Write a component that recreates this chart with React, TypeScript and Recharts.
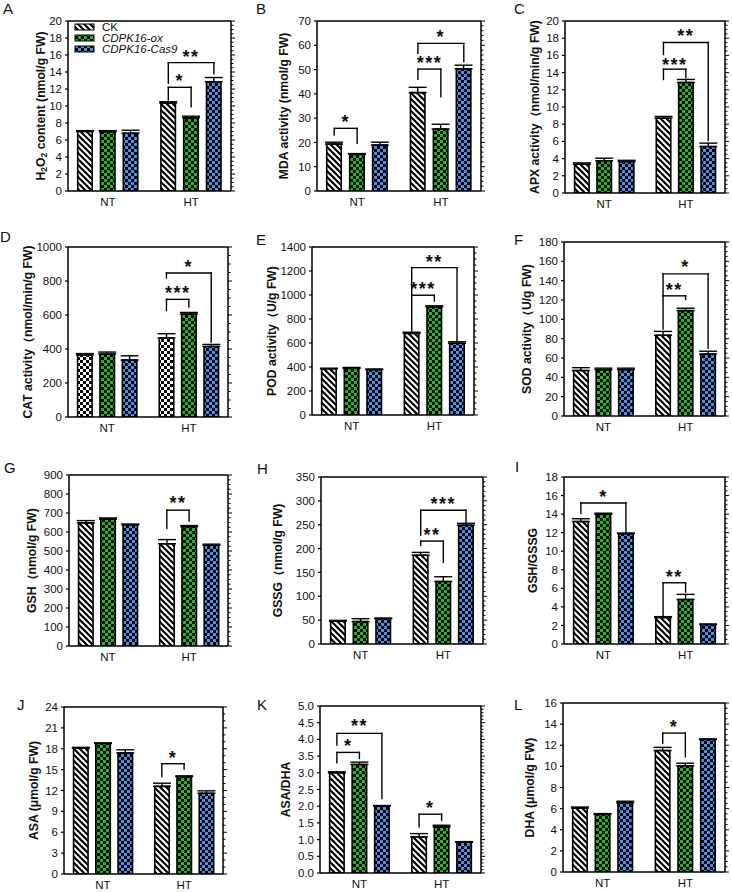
import React from "react";
import { BarChart, Bar, XAxis, YAxis, ErrorBar, Cell, ReferenceLine, ReferenceDot } from "recharts";

const FONT = "'Liberation Sans', Arial, Helvetica, sans-serif";

const groups = ["NT", "HT"];
const genotypes = ["CK", "CDPK16-ox", "CDPK16-Cas9"];

// 값 순서: NT(CK, ox, Cas9) → HT(CK, ox, Cas9)
const h2o2Mean = [7.0, 6.95, 6.8, 10.35, 8.6, 12.85];
const h2o2Err = [0.1, 0.15, 0.35, 0.15, 0.2, 0.5];
const mdaMean = [19.3, 15.1, 18.9, 40.5, 25.5, 50.3];
const mdaErr = [0.8, 0.3, 1.2, 2.2, 2.0, 1.5];
const apxMean = [3.35, 3.75, 3.65, 8.7, 12.85, 5.4];
const apxErr = [0.15, 0.3, 0.15, 0.2, 0.35, 0.4];
const catMean = [365, 370, 335, 465, 605, 415];
const catErr = [8, 12, 25, 25, 10, 12];
const podMean = [385, 388, 378, 680, 900, 598];
const podErr = [5, 8, 5, 10, 10, 12];
const sodMean = [47, 48, 48, 83.5, 109, 64];
const sodErr = [3, 1.5, 1.5, 4, 2.5, 3];
const gshMean = [648, 668, 638, 538, 628, 530];
const gshErr = [12, 6, 4, 22, 6, 6];
const gssgMean = [48, 47, 53, 186, 131, 249];
const gssgErr = [1.5, 6, 1.5, 6, 10, 4];
const gshRatioMean = [13.2, 14.0, 11.9, 2.85, 4.8, 2.1];
const gshRatioErr = [0.3, 0.1, 0.05, 0.1, 0.55, 0.05];
const asaMean = [18.1, 18.75, 17.4, 12.6, 14.0, 11.6];
const asaErr = [0.1, 0.1, 0.45, 0.45, 0.1, 0.35];
const asaRatioMean = [3.0, 3.25, 2.0, 1.08, 1.38, 0.92];
const asaRatioErr = [0.03, 0.07, 0.02, 0.1, 0.05, 0.02];
const dhaMean = [6.05, 5.45, 6.55, 11.5, 10.05, 12.55];
const dhaErr = [0.1, 0.08, 0.15, 0.3, 0.25, 0.05];

// y축 눈금
const h2o2Ticks = [0, 2, 4, 6, 8, 10, 12, 14, 16, 18, 20];
const mdaTicks = [0, 10, 20, 30, 40, 50, 60, 70];
const apxTicks = [0, 2, 4, 6, 8, 10, 12, 14, 16, 18, 20];
const catTicks = [0, 200, 400, 600, 800, 1000];
const podTicks = [0, 200, 400, 600, 800, 1000, 1200, 1400];
const sodTicks = [0, 20, 40, 60, 80, 100, 120, 140, 160, 180];
const gshTicks = [0, 100, 200, 300, 400, 500, 600, 700, 800, 900];
const gssgTicks = [0, 50, 100, 150, 200, 250, 300, 350];
const gshRatioTicks = [0, 2, 4, 6, 8, 10, 12, 14, 16, 18];
const asaTicks = [0, 3, 6, 9, 12, 15, 18, 21, 24];
const asaRatioTicks = [0, 0.5, 1, 1.5, 2, 2.5, 3, 3.5, 4, 4.5, 5];
const dhaTicks = [0, 2, 4, 6, 8, 10, 12, 14, 16];

// 유의성 브래킷: [왼쪽 막대, 오른쪽 막대, 가로선 y, 왼쪽 다리 끝, 오른쪽 다리 끝, 별표 y, 별표]
type Bracket = [number, number, number, number, number, number, string];
const h2o2Brackets: Bracket[] = [
  [3, 4, 12.2, 10.7, 9.9, 13.4, "*"],
  [3, 5, 15.1, 12.7, 13.8, 16.2, "**"],
];
const mdaBrackets: Bracket[] = [
  [0, 1, 25.8, 23, 19.6, 29.9, "*"],
  [3, 4, 50.2, 46, 38.8, 54.2, "***"],
  [3, 5, 60.8, 56.7, 53.2, 64.9, "*"],
];
const apxBrackets: Bracket[] = [
  [3, 4, 14.4, 13.2, 13.4, 15.4, "***"],
  [3, 5, 17.5, 16.1, 6.1, 18.7, "**"],
];
const catBrackets: Bracket[] = [
  [3, 4, 692, 627, 647, 755, "***"],
  [3, 5, 847, 818, 441, 908, "*"],
];
const podBrackets: Bracket[] = [
  [3, 4, 998, 700, 950, 1080, "***"],
  [3, 5, 1228, 1000, 620, 1311, "**"],
];
const sodBrackets: Bracket[] = [
  [3, 4, 124.3, 90, 120.5, 134, "**"],
  [3, 5, 147, 124.3, 70, 158, "*"],
];
const gshBrackets: Bracket[] = [[3, 4, 715, 620, 657, 772, "**"]];
const gssgBrackets: Bracket[] = [
  [3, 4, 215.7, 207, 171, 236.6, "**"],
  [3, 5, 280.4, 228, 254.7, 301, "***"],
];
const gshRatioBrackets: Bracket[] = [
  [0, 2, 15.2, 14.1, 12.0, 16.3, "*"],
  [3, 4, 6.6, 3.1, 5.6, 7.7, "**"],
];
const asaBrackets: Bracket[] = [[3, 4, 15.85, 14.0, 15.1, 17.3, "*"]];
const asaRatioBrackets: Bracket[] = [
  [0, 1, 3.61, 3.3, 3.43, 3.91, "*"],
  [0, 2, 4.18, 3.83, 2.23, 4.51, "**"],
  [3, 4, 1.76, 1.38, 1.58, 2.08, "*"],
];
const dhaBrackets: Bracket[] = [[3, 4, 13.15, 12.2, 10.9, 14.1, "*"]];

// 숫자 x축 위의 막대 자리 (NT 3개, HT 3개)
const SLOT_X = [1, 2, 3, 4.65, 5.65, 6.65];
const GROUP_X = [2, 5.65];
const X_DOMAIN: [number, number] = [0.25, 7.4];

const sub = (t: string) => (
  <tspan dy={3} fontSize={8.5}>
    {t}
  </tspan>
);

type PanelDef = {
  key: string;
  title: React.ReactNode;
  mean: number[];
  err: number[];
  ticks: number[];
  minor: number;
  brackets: Bracket[];
  box: [number, number, number, number]; // 플롯 영역 x, y, w, h
  titleDx: number;
  letter: [number, number];
  digits?: number;
  ckChecker?: boolean;
  topTicks?: boolean;
};

const panels: PanelDef[] = [
  {
    key: "A",
    title: (
      <>
        H{sub("2")}
        <tspan dy={-3}>O</tspan>
        {sub("2")}
        <tspan dy={-3}> content (nmol/g FW)</tspan>
      </>
    ),
    mean: h2o2Mean, err: h2o2Err, ticks: h2o2Ticks, minor: 0.5, brackets: h2o2Brackets,
    box: [68, 21, 163, 170], titleDx: -27, letter: [3, 14], topTicks: false,
  },
  {
    key: "B", title: "MDA activity (nmol/g FW)",
    mean: mdaMean, err: mdaErr, ticks: mdaTicks, minor: 2, brackets: mdaBrackets,
    box: [317, 21, 164, 170], titleDx: -33, letter: [256, 14],
  },
  {
    key: "C", title: "APX activity（nmol/min/g FW)",
    mean: apxMean, err: apxErr, ticks: apxTicks, minor: 0.5, brackets: apxBrackets,
    box: [565, 21, 160, 172], titleDx: -30, letter: [514, 14],
  },
  {
    key: "D", title: "CAT activity（nmol/min/g FW)",
    mean: catMean, err: catErr, ticks: catTicks, minor: 50, brackets: catBrackets,
    box: [68, 247, 160, 170], titleDx: -40, letter: [0, 242], ckChecker: true,
  },
  {
    key: "E", title: "POD activity（U/g FW)",
    mean: podMean, err: podErr, ticks: podTicks, minor: 50, brackets: podBrackets,
    box: [312, 247, 162, 168], titleDx: -40, letter: [256, 245],
  },
  {
    key: "F", title: "SOD activity（U/g FW)",
    mean: sodMean, err: sodErr, ticks: sodTicks, minor: 5, brackets: sodBrackets,
    box: [564, 242, 161, 174], titleDx: -37, letter: [514, 245],
  },
  {
    key: "G", title: "GSH（nmol/g FW)",
    mean: gshMean, err: gshErr, ticks: gshTicks, minor: 25, brackets: gshBrackets,
    box: [69, 475, 159, 171], titleDx: -37, letter: [4, 473],
  },
  {
    key: "H", title: "GSSG（nmol/g FW)",
    mean: gssgMean, err: gssgErr, ticks: gssgTicks, minor: 10, brackets: gssgBrackets,
    box: [321, 477, 162, 167], titleDx: -43, letter: [257, 474],
  },
  {
    key: "I", title: "GSH/GSSG",
    mean: gshRatioMean, err: gshRatioErr, ticks: gshRatioTicks, minor: 0.5, brackets: gshRatioBrackets,
    box: [564, 477, 161, 167], titleDx: -31, letter: [515, 472],
  },
  {
    key: "J", title: "ASA (μmol/g FW)",
    mean: asaMean, err: asaErr, ticks: asaTicks, minor: 1, brackets: asaBrackets,
    box: [64, 707, 159, 167], titleDx: -30, letter: [17, 710],
  },
  {
    key: "K", title: "ASA/DHA",
    mean: asaRatioMean, err: asaRatioErr, ticks: asaRatioTicks, minor: 0.1, brackets: asaRatioBrackets,
    box: [320, 706, 161, 167], titleDx: -34, letter: [257, 710], digits: 1,
  },
  {
    key: "L", title: "DHA (μmol/g FW)",
    mean: dhaMean, err: dhaErr, ticks: dhaTicks, minor: 0.5, brackets: dhaBrackets,
    box: [563, 703, 162, 169], titleDx: -33, letter: [514, 710],
  },
];

const GREEN = "#1fb81f";
const BLUE = "#4a8fe6";

function patternDefs(id: string) {
  return (
    <defs>
      <pattern id={`${id}-st`} width={6} height={6} patternUnits="userSpaceOnUse">
        <rect width={6} height={6} fill="#fff" />
        <path d="M-1,-1 L7,7 M-1,5 L1,7 M5,-1 L7,1" stroke="#000" strokeWidth={2.2} />
      </pattern>
      <pattern id={`${id}-ckc`} width={6} height={6} patternUnits="userSpaceOnUse">
        <rect width={6} height={6} fill="#000" />
        <rect width={3} height={3} fill="#fff" />
        <rect x={3} y={3} width={3} height={3} fill="#fff" />
      </pattern>
      <pattern id={`${id}-gr`} width={6} height={6} patternUnits="userSpaceOnUse">
        <rect width={6} height={6} fill="#000" />
        <rect width={3} height={3} fill={GREEN} />
        <rect x={3} y={3} width={3} height={3} fill={GREEN} />
      </pattern>
      <pattern id={`${id}-bl`} width={6} height={6} patternUnits="userSpaceOnUse">
        <rect width={6} height={6} fill="#000" />
        <rect width={3} height={3} fill={BLUE} />
        <rect x={3} y={3} width={3} height={3} fill={BLUE} />
      </pattern>
    </defs>
  );
}

function YTitle({ viewBox, dx, title }: { viewBox?: any; dx: number; title: React.ReactNode }) {
  const vb = viewBox || {};
  const cx = (vb.x ?? 0) + (vb.width ?? 60) + dx;
  const cy = (vb.y ?? 22) + (vb.height ?? 170) / 2;
  return (
    <text
      transform={`translate(${cx},${cy}) rotate(-90)`}
      textAnchor="middle"
      dominantBaseline="central"
      fontSize={12.2}
      fontWeight="bold"
      fontFamily={FONT}
      fill="#111"
    >
      {title}
    </text>
  );
}

function Panel({ p }: { p: PanelDef }) {
  const [x, y, w, h] = p.box;
  const id = p.key;
  const yMax = p.ticks[p.ticks.length - 1];
  const rows = p.mean.map((v, i) => ({
    pos: SLOT_X[i],
    value: v,
    err: [0, p.err[i]],
    kind: i % 3,
  }));
  // 오른쪽 축 보조 눈금
  const minorTicks: number[] = [];
  const nMinor = Math.round(yMax / p.minor);
  for (let i = 0; i <= nMinor; i++) minorTicks.push(Number((i * p.minor).toFixed(4)));
  const fills = [p.ckChecker ? `url(#${id}-ckc)` : `url(#${id}-st)`, `url(#${id}-gr)`, `url(#${id}-bl)`];
  const fmt = (v: number) => (p.digits ? v.toFixed(p.digits) : String(v));
  const axisLine = { stroke: "#000", strokeWidth: 1.5 };

  const marks = p.brackets.flatMap(([a, b, top, la, lb, sy, txt], k) => {
    const xa = SLOT_X[a];
    const xb = SLOT_X[b];
    const common = { xAxisId: "b", yAxisId: "l", stroke: "#000", strokeWidth: 1.4, strokeLinecap: "square" as const };
    return [
      <ReferenceLine key={`h${k}`} {...common} segment={[{ x: xa, y: top }, { x: xb, y: top }]} />,
      <ReferenceLine key={`l${k}`} {...common} segment={[{ x: xa, y: top }, { x: xa, y: la }]} />,
      <ReferenceLine key={`r${k}`} {...common} segment={[{ x: xb, y: top }, { x: xb, y: lb }]} />,
      <ReferenceDot
        key={`s${k}`}
        xAxisId="b"
        yAxisId="l"
        x={(xa + xb) / 2}
        y={sy}
        r={0}
        shape={(sp: any) => (
          <text
            x={sp.cx}
            y={sp.cy + 10}
            textAnchor="middle"
            fontSize={18}
            fontWeight="bold"
            fontFamily={FONT}
            letterSpacing={1.5}
            fill="#111"
          >
            {txt}
          </text>
        )}
      />,
    ];
  });

  return (
    <div style={{ position: "absolute", left: x - 60, top: y - 22 }}>
      <BarChart width={w + 80} height={h + 52} data={rows} margin={{ top: 21, right: 19, bottom: 0, left: 0 }}>
        {patternDefs(id)}
        <XAxis
          xAxisId="b"
          dataKey="pos"
          type="number"
          domain={X_DOMAIN}
          allowDataOverflow
          ticks={GROUP_X}
          interval={0}
          tickFormatter={(v: number) => groups[GROUP_X.indexOf(v)] ?? ""}
          height={30}
          tickSize={0}
          tickMargin={7}
          tickLine={false}
          axisLine={axisLine}
          tick={{ fontSize: 11.5, fill: "#111", fontFamily: FONT }}
        />
        <XAxis
          xAxisId="t"
          orientation="top"
          type="number"
          domain={X_DOMAIN}
          allowDataOverflow
          ticks={GROUP_X}
          interval={0}
          height={1}
          tick={false}
          tickSize={5}
          tickLine={p.topTicks === false ? false : { stroke: "#000", strokeWidth: 1.2 }}
          axisLine={axisLine}
        />
        <YAxis
          yAxisId="l"
          width={60}
          domain={[0, yMax]}
          allowDataOverflow
          ticks={p.ticks}
          interval={0}
          tickFormatter={fmt}
          tickSize={3}
          tickMargin={3}
          axisLine={axisLine}
          tickLine={{ stroke: "#000", strokeWidth: 1.2 }}
          tick={{ fontSize: 11.5, fill: "#111", fontFamily: FONT }}
          label={{ content: (lp: any) => <YTitle viewBox={lp.viewBox} dx={p.titleDx} title={p.title} /> }}
        />
        <YAxis
          yAxisId="r"
          orientation="right"
          width={1}
          domain={[0, yMax]}
          allowDataOverflow
          ticks={minorTicks}
          interval={0}
          tickSize={0}
          tickMargin={0}
          tickLine={false}
          axisLine={axisLine}
          tick={(tp: any) => {
            const v = tp.payload.value;
            const major = p.ticks.some((t) => Math.abs(t - v) < 1e-6);
            return (
              <line
                x1={tp.x}
                x2={tp.x + (major ? 4 : 2.5)}
                y1={tp.y}
                y2={tp.y}
                stroke="#000"
                strokeWidth={1}
              />
            );
          }}
        />
        <Bar
          xAxisId="b"
          yAxisId="l"
          dataKey="value"
          barSize={14.5}
          stroke="#000"
          strokeWidth={1.6}
          isAnimationActive={false}
        >
          {rows.map((r, i) => (
            <Cell key={i} fill={fills[r.kind]} />
          ))}
          <ErrorBar dataKey="err" width={9} stroke="#000" strokeWidth={1.4} direction="y" isAnimationActive={false} />
        </Bar>
        {marks}
      </BarChart>
    </div>
  );
}

function Legend() {
  const rowsY = [27, 38, 49];
  const fills = ["url(#lg-st)", "url(#lg-gr)", "url(#lg-bl)"];
  return (
    <g>
      {patternDefs("lg")}
      {genotypes.map((g, i) => (
        <g key={g}>
          <rect x={75} y={rowsY[i] - 3} width={19} height={6} fill={fills[i]} stroke="#000" strokeWidth={1} />
          <text
            x={102}
            y={rowsY[i]}
            dominantBaseline="central"
            fontSize={11.5}
            fontFamily={FONT}
            fontStyle={i === 0 ? "normal" : "italic"}
            fill="#111"
          >
            {g}
          </text>
        </g>
      ))}
    </g>
  );
}

export default function App() {
  return (
    <div style={{ position: "absolute", left: 0, top: 0, width: 732, height: 892, background: "#fff", overflow: "hidden" }}>
      {panels.map((p) => (
        <Panel key={p.key} p={p} />
      ))}
      <svg width={732} height={892} style={{ position: "absolute", left: 0, top: 0, pointerEvents: "none" }}>
        {panels.map((p) => (
          <text key={p.key} x={p.letter[0]} y={p.letter[1]} fontSize={15} fontFamily={FONT} fill="#111">
            {p.key}
          </text>
        ))}
        <Legend />
      </svg>
    </div>
  );
}
